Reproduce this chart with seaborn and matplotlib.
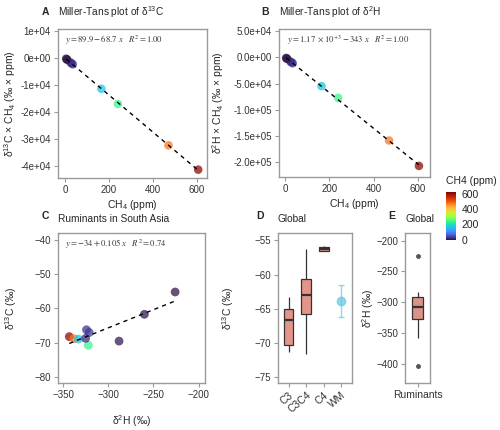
import matplotlib
matplotlib.use("Agg")
from matplotlib import pyplot as plt
from matplotlib.ticker import FuncFormatter
import matplotlib.cm as cm
import matplotlib.colors as mcolors
import pandas as pd
import seaborn as sns

# --- data ---
ch4 = [605, 470, 165, 240, 30, 35, 25, 10, 8, 5]
d13c_times_ch4 = [-41300, -32300, -11400, -17000, -2000, -2350, -1700, -700, -500, -280]
d2h_times_ch4 = [-207500, -158900, -55000, -77300, -9700, -11200, -8100, -2900, -2100, -1100]
d2h_sa = [-343, -338, -333, -322, -324, -321, -325, -288, -260, -226]
d13c_sa = [-68.2, -68.8, -68.9, -70.7, -66.2, -67.0, -68.7, -69.5, -61.7, -55.2]

global_groups = ["C3", "C3C4", "C4", "WM"]
c3_values = [-71.3, -70.3, -66.7, -65.1, -63.3]
c3c4_values = [-71.6, -65.8, -63.0, -60.7, -56.3]
c4_values = [-56.6, -56.5, -56.2, -55.9, -55.8]
wm_mean, wm_low, wm_high = -63.9, -66.2, -61.5
ruminant_d2h = [-404, -358, -327, -318, -308, -300, -292, -284, -225]

eq_a = r"$y=89.9-68.7\ x\quad R^2=1.00$"
eq_b = r"$y=1.17\ \times 10^{+3}-343\ x\quad R^2=1.00$"
eq_c = r"$y=-34+0.105\ x\quad R^2=0.74$"

sns.set_style("white")
plt.rcParams["font.family"] = ["Liberation Sans", "DejaVu Sans"]
plt.rcParams["mathtext.fontset"] = "custom"
plt.rcParams["mathtext.rm"] = "Liberation Sans"
plt.rcParams["mathtext.it"] = "Liberation Sans:italic"

TICK_FS = 7
LAB_FS = 7.5
TITLE_FS = 7.3
EQ_FS = 6.2
norm = mcolors.Normalize(0, 620)
cmap = "turbo"
fig = plt.figure(figsize=(5, 4.3), dpi=100)


def style(ax):
    for s in ax.spines.values():
        s.set_color("#9a9a9a")
        s.set_linewidth(1)
    ax.tick_params(axis="both", length=3, width=0.8, color="#9a9a9a",
                   labelsize=TICK_FS, labelcolor="#333333", pad=2, direction="out",
                   bottom=True, left=True)
    ax.grid(False)


def title(ax, letter, text, dx=-0.13):
    ax.text(dx, 1.08, letter, transform=ax.transAxes, fontsize=7.5, fontweight="bold",
            ha="left", va="bottom")
    ax.text(0.0, 1.06, text, transform=ax.transAxes, fontsize=TITLE_FS,
            ha="left", va="bottom")


df = pd.DataFrame({"ch4": ch4, "a": d13c_times_ch4, "b": d2h_times_ch4,
                   "d2h": d2h_sa, "d13c": d13c_sa})
line_kws = dict(color="black", lw=1, ls=(0, (3, 3)))

# --- A ---
axA = fig.add_axes([0.116, 0.586, 0.298, 0.3465])
sns.scatterplot(data=df, x="ch4", y="a", hue="ch4", palette=cmap, hue_norm=norm,
                s=38, alpha=0.75, linewidth=0, legend=False, ax=axA)
sns.regplot(data=df, x="ch4", y="a", ci=None, scatter=False, ax=axA, line_kws=line_kws)
axA.set_xlim(-32, 645)
axA.set_ylim(-44400, 10700)
axA.set_yticks([10000, 0, -10000, -20000, -30000, -40000])
axA.yaxis.set_major_formatter(FuncFormatter(lambda v, p: f"{v:.0e}"))
axA.set_xticks([0, 200, 400, 600])
axA.set_xlabel("CH$_4$ (ppm)", fontsize=LAB_FS, labelpad=2)
axA.set_ylabel("δ$^{13}$C × CH$_4$ (‰ × ppm)", fontsize=LAB_FS)
axA.yaxis.set_label_coords(-0.27, 0.5)
axA.text(0.05, 0.925, eq_a, transform=axA.transAxes, fontsize=EQ_FS, va="center",
         math_fontfamily="stix", color="#333333")
style(axA)
title(axA, "A", "Miller-Tans plot of δ$^{13}$C", dx=-0.11)

# --- B ---
axB = fig.add_axes([0.558, 0.588, 0.302, 0.344])
sns.scatterplot(data=df, x="ch4", y="b", hue="ch4", palette=cmap, hue_norm=norm,
                s=38, alpha=0.75, linewidth=0, legend=False, ax=axB)
sns.regplot(data=df, x="ch4", y="b", ci=None, scatter=False, ax=axB, line_kws=line_kws)
axB.set_xlim(-27, 655)
axB.set_ylim(-229000, 53800)
axB.set_yticks([50000, 0, -50000, -100000, -150000, -200000])
axB.yaxis.set_major_formatter(FuncFormatter(lambda v, p: f"{v:.1e}"))
axB.set_xticks([0, 200, 400, 600])
axB.set_xlabel("CH$_4$ (ppm)", fontsize=LAB_FS, labelpad=2)
axB.set_ylabel("δ$^{2}$H × CH$_4$ (‰ × ppm)", fontsize=LAB_FS)
axB.yaxis.set_label_coords(-0.35, 0.5)
axB.text(0.05, 0.925, eq_b, transform=axB.transAxes, fontsize=EQ_FS, va="center",
         math_fontfamily="stix", color="#333333")
style(axB)
title(axB, "B", "Miller-Tans plot of δ$^{2}$H", dx=-0.12)

# --- colorbar ---
cax = fig.add_axes([0.892, 0.442, 0.02, 0.1116])
sm = cm.ScalarMappable(norm=norm, cmap=cmap)
cb = fig.colorbar(sm, cax=cax, ticks=[0, 200, 400, 600])
cb.outline.set_visible(False)
cax.tick_params(labelsize=LAB_FS, length=2, color="white", pad=2)
cax.text(0.0, 1.12, "CH4 (ppm)", transform=cax.transAxes, fontsize=LAB_FS,
         ha="left", va="bottom")

# --- C ---
axC = fig.add_axes([0.116, 0.1093, 0.294, 0.349])
sns.scatterplot(data=df, x="d2h", y="d13c", hue="ch4", palette=cmap, hue_norm=norm,
                s=40, alpha=0.75, linewidth=0, legend=False, ax=axC)
sns.regplot(data=df, x="d2h", y="d13c", ci=None, scatter=False, ax=axC, line_kws=line_kws)
axC.set_xlim(-355.5, -193)
axC.set_ylim(-81.7, -38)
axC.set_xticks([-350, -300, -250, -200])
axC.set_yticks([-40, -50, -60, -70, -80])
axC.set_xlabel("δ$^{2}$H (‰)", fontsize=LAB_FS)
axC.xaxis.set_label_coords(0.5, -0.2)
axC.set_ylabel("δ$^{13}$C (‰)", fontsize=LAB_FS)
axC.yaxis.set_label_coords(-0.265, 0.5)
axC.text(0.05, 0.925, eq_c, transform=axC.transAxes, fontsize=EQ_FS, va="center",
         math_fontfamily="stix", color="#333333")
style(axC)
title(axC, "C", "Ruminants in South Asia", dx=-0.11)

# --- D ---
axD = fig.add_axes([0.556, 0.1093, 0.148, 0.349])
box_df = pd.DataFrame({
    "group": ["C3"] * len(c3_values) + ["C3C4"] * len(c3c4_values) + ["C4"] * len(c4_values),
    "value": c3_values + c3c4_values + c4_values,
})
box_kw = dict(width=0.55, linewidth=0.9, linecolor="#333333",
              capprops=dict(linewidth=0),
              medianprops=dict(color="#333333", linewidth=1.6),
              flierprops=dict(marker="o", markersize=2.5, markerfacecolor="#555555",
                              markeredgecolor="#555555"))
sns.boxplot(data=box_df, x="group", y="value", order=global_groups,
            color="#F4887B", ax=axD, **box_kw)
wm_x = global_groups.index("WM")
axD.errorbar([wm_x], [wm_mean], yerr=[[wm_mean - wm_low], [wm_high - wm_mean]],
             fmt="o", color="#5FC9E2", alpha=0.7, markersize=6, capsize=2.5, lw=1)
axD.set_xlim(-0.6, 3.6)
axD.set_ylim(-75.9, -53.9)
axD.set_yticks([-55, -60, -65, -70, -75])
axD.set_xlabel("")
axD.set_ylabel("δ$^{13}$C (‰)", fontsize=LAB_FS)
axD.yaxis.set_label_coords(-0.57, 0.5)
style(axD)
axD.tick_params(axis="x", labelsize=LAB_FS)
plt.setp(axD.get_xticklabels(), rotation=40, ha="right", rotation_mode="anchor")
title(axD, "D", "Global", dx=-0.3)

# --- E ---
axE = fig.add_axes([0.81, 0.1093, 0.05, 0.349])
rum_df = pd.DataFrame({"group": ["Ruminants"] * len(ruminant_d2h), "value": ruminant_d2h})
sns.boxplot(data=rum_df, x="group", y="value", color="#E8897A", ax=axE, **box_kw)
axE.set_xlim(-0.6, 0.6)
axE.set_ylim(-431, -187.5)
axE.set_yticks([-200, -250, -300, -350, -400])
axE.set_xlabel("")
axE.set_ylabel("δ$^{2}$H (‰)", fontsize=LAB_FS)
axE.yaxis.set_label_coords(-1.16, 0.5)
style(axE)
axE.tick_params(axis="x", labelsize=LAB_FS)
axE.text(-0.65, 1.08, "E", transform=axE.transAxes, fontsize=7.5, fontweight="bold",
         ha="left", va="bottom")
axE.text(0.0, 1.06, "Global", transform=axE.transAxes, fontsize=TITLE_FS,
         ha="left", va="bottom")

plt.savefig("out.png", dpi=100)
